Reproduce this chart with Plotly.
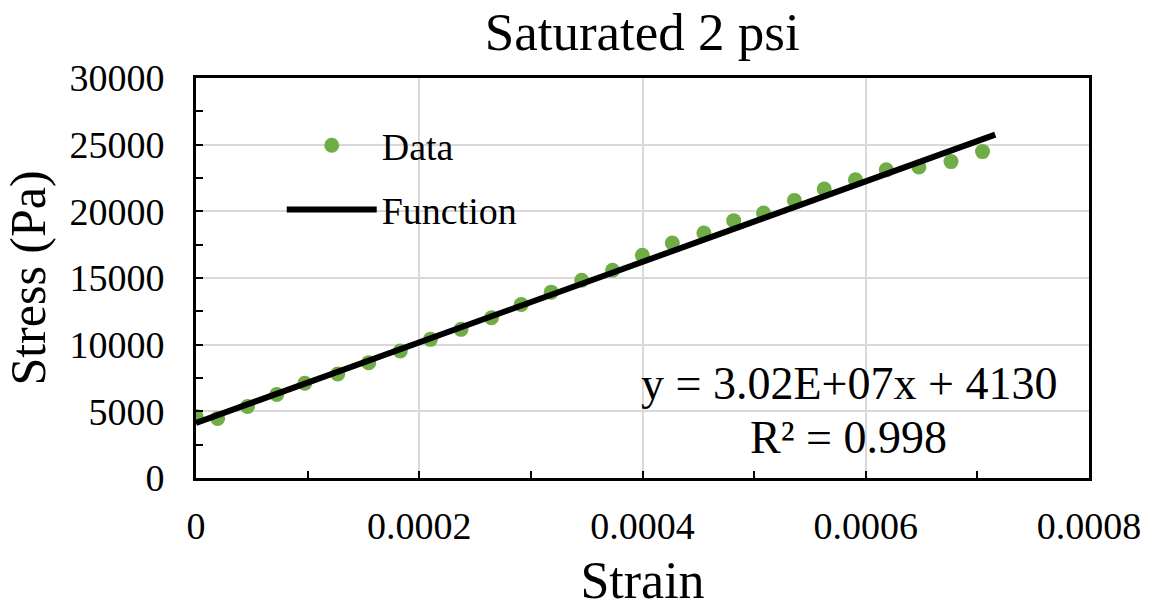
import plotly.graph_objects as go

# Data
strain = [0.0, 0.0000194, 0.0000462, 0.0000724, 0.0000974, 0.000127, 0.0001547,
          0.000183, 0.00021, 0.0002374, 0.0002647, 0.0002914, 0.0003182,
          0.0003455, 0.0003732, 0.0003999, 0.0004267, 0.000455, 0.0004817,
          0.0005084, 0.0005361, 0.0005628, 0.0005908, 0.0006184, 0.0006476,
          0.0006764, 0.0007046]
stress = [4620, 4470, 5360, 6260, 7110, 7800, 8650,
          9520, 10400, 11150, 12020, 13010, 13940,
          14830, 15580, 16700, 17630, 18380, 19300,
          19870, 20820, 21670, 22370, 23110, 23320,
          23730, 24480]

slope = 3.02e7
intercept = 4130
fit_x = [0.0, 0.000716]
fit_y = [slope * v + intercept for v in fit_x]

x_tickvals = [0, 0.0002, 0.0004, 0.0006, 0.0008]
x_ticktext = ["0", "0.0002", "0.0004", "0.0006", "0.0008"]
y_tickvals = [0, 5000, 10000, 15000, 20000, 25000, 30000]
y_ticktext = ["0", "5000", "10000", "15000", "20000", "25000", "30000"]

FONT = "Liberation Serif, Times New Roman, serif"

fig = go.Figure()
fig.add_trace(go.Scatter(
    x=strain, y=stress, mode="markers", name="Data",
    marker=dict(color="#70AD47", size=15, line=dict(width=0)),
    legendgroup="a",
))
fig.add_trace(go.Scatter(
    x=fit_x, y=fit_y, mode="lines", name="Function",
    line=dict(color="black", width=6),
    legendgroup="b",
))

axis_common = dict(
    showline=True, linecolor="black", linewidth=3, mirror=True,
    showgrid=True, gridcolor="#d9d9d9", gridwidth=1.5,
    zeroline=False, ticks="inside", ticklen=7, tickwidth=2, tickcolor="black",
    tickfont=dict(family=FONT, size=38, color="black"),
)

fig.update_xaxes(
    range=[0, 0.0008], tickvals=x_tickvals, ticktext=x_ticktext,
    minor=dict(dtick=0.0001, ticks="inside", ticklen=7, tickwidth=2, tickcolor="black", showgrid=False),
    title=dict(text="Strain", font=dict(family=FONT, size=52, color="black"), standoff=17),
    ticklabelstandoff=12,
    **axis_common,
)
fig.update_yaxes(
    range=[0, 30000], tickvals=y_tickvals, ticktext=y_ticktext,
    minor=dict(dtick=2500, ticks="inside", ticklen=7, tickwidth=2, tickcolor="black", showgrid=False),
    title=dict(text="Stress (Pa)", font=dict(family=FONT, size=50, color="black"), standoff=8),
    ticklabelstandoff=21,
    **axis_common,
)

fig.add_annotation(
    text="y = 3.02E+07x + 4130", xref="paper", yref="paper",
    x=0.731, y=0.236, xanchor="center", yanchor="middle", showarrow=False,
    font=dict(family=FONT, size=46, color="black"),
)
fig.add_annotation(
    text="R² = 0.998", xref="paper", yref="paper",
    x=0.731, y=0.102, xanchor="center", yanchor="middle", showarrow=False,
    font=dict(family=FONT, size=46, color="black"),
)

fig.update_layout(
    width=1153, height=612,
    margin=dict(l=196, r=61, t=78, b=133),
    paper_bgcolor="white", plot_bgcolor="white",
    title=dict(text="Saturated 2 psi", x=0.557, xanchor="center",
               y=0.948, yanchor="middle", yref="container",
               font=dict(family=FONT, size=53, color="black")),
    showlegend=True,
    legend=dict(x=0.096, y=0.91, xanchor="left", yanchor="top",
                bgcolor="rgba(0,0,0,0)", itemwidth=90, tracegroupgap=12,
                traceorder="grouped",
                font=dict(family=FONT, size=38, color="black")),
)

fig.write_html("out.html")
